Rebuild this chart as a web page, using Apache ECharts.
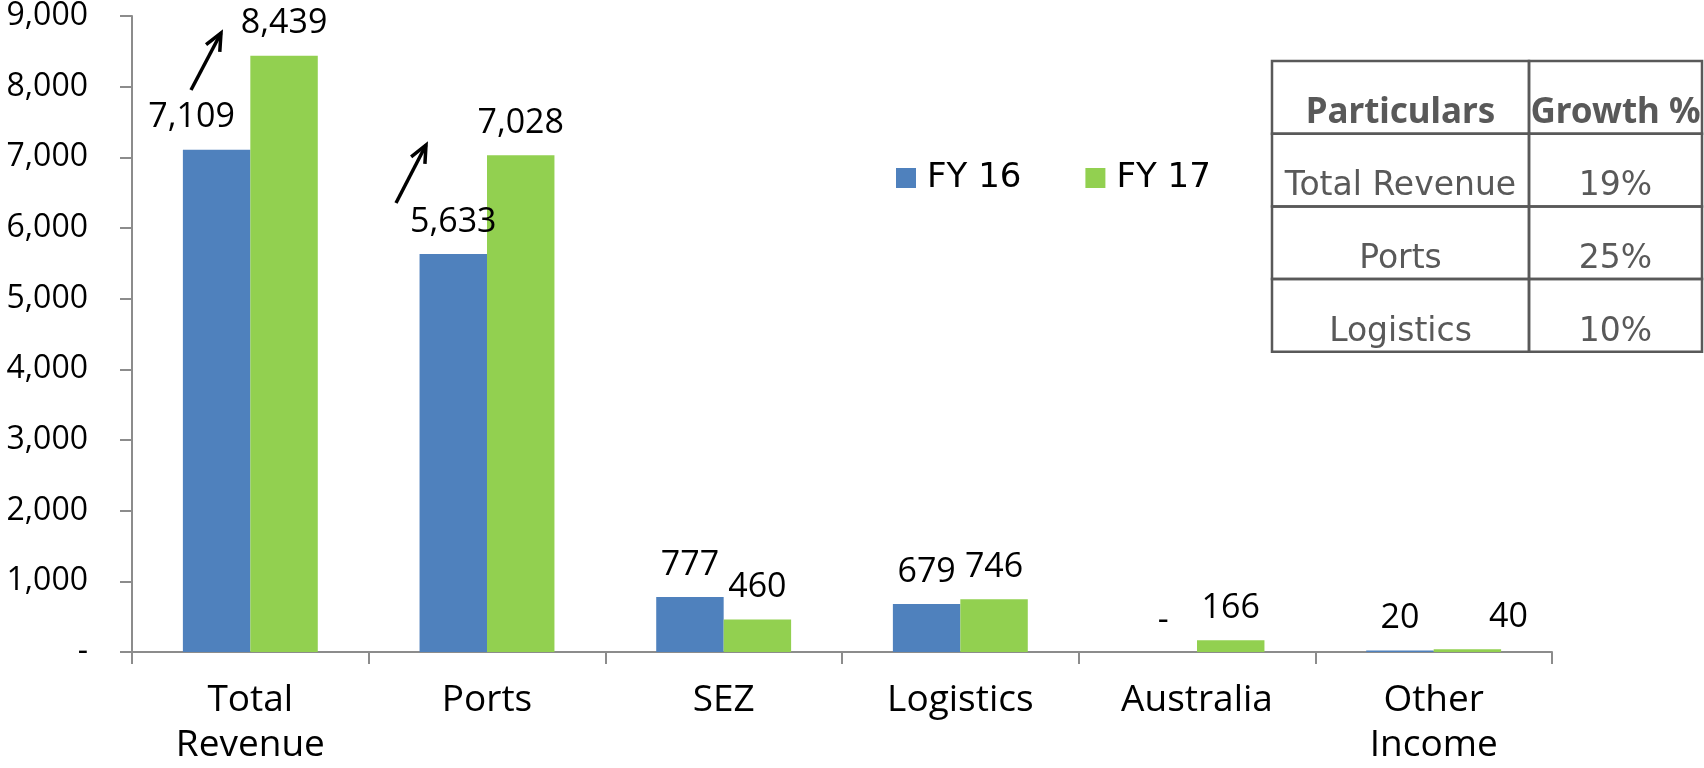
<!DOCTYPE html>
<html>
<head>
<meta charset="utf-8">
<script src="https://cdn.jsdelivr.net/npm/echarts@6/dist/echarts.min.js"></script>
<style>
  html, body { margin: 0; padding: 0; background: #fff; }
  #chart { width: 1704px; height: 768px; }
</style>
</head>
<body>
<div id="chart"></div>
<script>
const categories = ['Total\nRevenue', 'Ports', 'SEZ', 'Logistics', 'Australia', 'Other\nIncome'];
const fy16 = [7109, 5633, 777, 679, 0, 20];
const fy17 = [8439, 7028, 460, 746, 166, 40];
const seriesNames = ['FY 16', 'FY 17'];
const yTicks = { min: 0, max: 9000, interval: 1000 };

const tableHeader = ['Particulars', 'Growth %'];
const tableRows = ['Total Revenue', 'Ports', 'Logistics'];
const tableGrowth = ['19%', '25%', '10%'];

const labelFont = '"Open Sans", sans-serif';
const headFont = '"Noto Sans", sans-serif';
const bodyFont = '"DejaVu Sans", sans-serif';

// a couple of labels were nudged sideways in the original
const fy16Nudge = { 0: -25 };
const fy17Nudge = { 5: 41 };

function fmt(v) {
	return v === 0 ? '-' : v.toLocaleString('en-US');
}

function withNudge(values, nudge) {
	return values.map((v, i) => nudge[i] ? { value: v, label: { offset: [nudge[i], 0] } } : v);
}

// table drawn as graphic elements
function buildTable() {
	const x0 = 1272, y0 = 61, colW = [257, 173], rowH = 72.7;
	const els = [];
	const rows = [tableHeader].concat(tableRows.map((r, i) => [r, tableGrowth[i]]));
	rows.forEach((row, r) => {
		let x = x0;
		row.forEach((cell, c) => {
			els.push({
				type: 'rect',
				shape: { x: x, y: y0 + r * rowH, width: colW[c], height: rowH },
				style: { fill: 'transparent', stroke: '#595959', lineWidth: 2.5 }
			});
			els.push({
				type: 'text',
				x: x + colW[c] / 2,
				y: y0 + (r + 1) * rowH - 3,
				style: {
					text: cell,
					align: 'center',
					verticalAlign: 'bottom',
					font: r === 0 ? ('bold 35px ' + headFont) : ('33px ' + bodyFont),
					fill: '#595959'
				}
			});
			x += colW[c];
		});
	});
	return els;
}

function arrow(x1, y1, x2, y2) {
	const ang = Math.atan2(y2 - y1, x2 - x1);
	const h = 19, spread = 0.42;
	return [
		{ type: 'line', shape: { x1: x1, y1: y1, x2: x2, y2: y2 }, style: { stroke: '#000', lineWidth: 3.5 } },
		{
			type: 'polyline',
			shape: { points: [
				[x2 - h * Math.cos(ang - spread), y2 - h * Math.sin(ang - spread)],
				[x2, y2],
				[x2 - h * Math.cos(ang + spread), y2 - h * Math.sin(ang + spread)]
			] },
			style: { stroke: '#000', lineWidth: 3.5, fill: null }
		}
	];
}

const chart = echarts.init(document.getElementById('chart'));

const dataLabel = {
	show: true,
	position: 'top',
	distance: 15,
	color: '#000',
	fontFamily: labelFont,
	fontSize: 34,
	formatter: p => fmt(p.value)
};

chart.setOption({
	animation: false,
	backgroundColor: '#fff',
	grid: { left: 132, right: 152, top: 16, bottom: 109, containLabel: false },
	legend: {
		data: seriesNames,
		left: 891,
		top: 156,
		itemWidth: 20,
		itemHeight: 20,
		itemGap: 64,
		icon: 'rect',
		textStyle: { fontFamily: bodyFont, fontSize: 34, color: '#000', padding: [0, 0, 0, 6] }
	},
	xAxis: {
		type: 'category',
		data: categories,
		axisLine: { lineStyle: { color: '#8c8c8c', width: 2 } },
		axisTick: { show: true, length: 12, lineStyle: { color: '#8c8c8c', width: 2 } },
		axisLabel: {
			color: '#000',
			fontFamily: labelFont,
			fontSize: 37,
			lineHeight: 45,
			margin: 26
		}
	},
	yAxis: {
		type: 'value',
		min: yTicks.min,
		max: yTicks.max,
		interval: yTicks.interval,
		splitLine: { show: false },
		axisLine: { show: true, lineStyle: { color: '#8c8c8c', width: 2 } },
		axisTick: { show: true, length: 12, lineStyle: { color: '#8c8c8c', width: 2 } },
		axisLabel: {
			color: '#000',
			fontFamily: labelFont,
			fontSize: 32,
			margin: 44,
			formatter: fmt
		}
	},
	series: [
		{
			name: seriesNames[0],
			type: 'bar',
			data: withNudge(fy16, fy16Nudge),
			barGap: '0%',
			barCategoryGap: '43%',
			itemStyle: { color: '#4f81bd' },
			label: dataLabel
		},
		{
			name: seriesNames[1],
			type: 'bar',
			data: withNudge(fy17, fy17Nudge),
			itemStyle: { color: '#92d050' },
			label: dataLabel
		}
	],
	graphic: buildTable()
		.concat(arrow(191, 90, 221, 33))
		.concat(arrow(396, 203, 426, 145))
});
</script>
</body>
</html>
